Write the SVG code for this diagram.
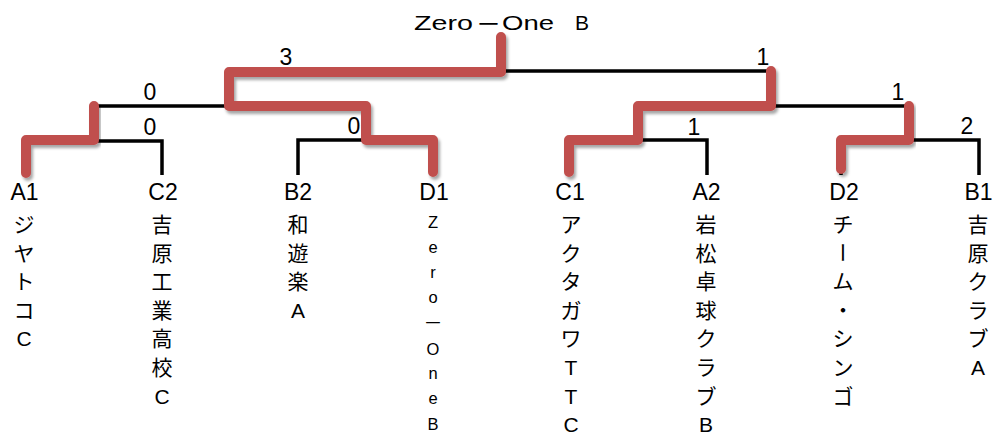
<svg xmlns="http://www.w3.org/2000/svg" width="996" height="435" viewBox="0 0 996 435">
<style>
text{font-family:"Liberation Sans","Noto Sans CJK JP",sans-serif;fill:#000}
.t{font-size:21px}
.lab{font-size:23px;text-anchor:middle}
.col{font-size:21px;text-anchor:middle}
.colS{font-size:16.5px;text-anchor:middle}
.sc{font-size:23px;text-anchor:middle}
.blk{fill:none;stroke:#000;stroke-width:3.5;stroke-linecap:butt;stroke-linejoin:miter}
.red{fill:none;stroke:#c0504d;stroke-width:10;stroke-linecap:round;stroke-linejoin:round;filter:url(#sh)}
</style>
<defs>
<filter id="sh" x="-10%" y="-30%" width="120%" height="160%">
<feDropShadow dx="2" dy="3" stdDeviation="1.6" flood-color="#000" flood-opacity="0.35"/>
</filter>
</defs>
<g id="connectors">
<g id="bracket-lines">
<path class="blk" d="M26 175V141H162V175"/>
<path class="blk" d="M94 141V106H366"/>
<path class="blk" d="M298 175V140H433V175"/>
<path class="blk" d="M366 140V106"/>
<path class="blk" d="M229 106V71H771V106"/>
<path class="blk" d="M501 71V37"/>
<path class="blk" d="M569 175V140H707V175"/>
<path class="blk" d="M638 140V106H909V140"/>
<path class="blk" d="M841 175V140H979V175"/>
</g>
<g id="winner-paths">
<path class="red" d="M26 173V140H94V106"/>
<path class="red" d="M433 172V140H366V106H229V72H501V37"/>
<path class="red" d="M569 172V140H638V106H771V71"/>
<path class="red" d="M841 169V140H909V106"/>
</g>
<g id="scores">
<text class="sc" x="286" y="65">3</text>
<text class="sc" x="150" y="100">0</text>
<text class="sc" x="150" y="135">0</text>
<text class="sc" x="354" y="134">0</text>
<text class="sc" x="763" y="65">1</text>
<text class="sc" x="898" y="100">1</text>
<text class="sc" x="694" y="135">1</text>
<text class="sc" x="967" y="134">2</text>
</g>
</g>
<g id="champion">
<text class="t" y="30"><tspan x="414" textLength="59" lengthAdjust="spacingAndGlyphs">Zero</tspan><tspan x="476" y="32.5" style="font-size:25px">－</tspan><tspan x="502" y="30" textLength="52" lengthAdjust="spacingAndGlyphs">One</tspan><tspan x="575">　</tspan><tspan x="575">B</tspan></text>
</g>
<g id="A1">
<text class="lab" x="24.5" y="200">A1</text>
<text class="col"><tspan x="24" y="232">ジ</tspan><tspan x="24" y="260.6">ヤ</tspan><tspan x="24" y="289.2">ト</tspan><tspan x="24" y="317.8">コ</tspan><tspan x="24" y="346.4">C</tspan></text>
</g>
<g id="C2">
<text class="lab" x="163" y="200">C2</text>
<text class="col"><tspan x="162" y="232">吉</tspan><tspan x="162" y="260.6">原</tspan><tspan x="162" y="289.2">工</tspan><tspan x="162" y="317.8">業</tspan><tspan x="162" y="346.4">高</tspan><tspan x="162" y="375">校</tspan><tspan x="162" y="403.6">C</tspan></text>
</g>
<g id="B2">
<text class="lab" x="298" y="200">B2</text>
<text class="col"><tspan x="298" y="232">和</tspan><tspan x="298" y="260.6">遊</tspan><tspan x="298" y="289.2">楽</tspan><tspan x="298" y="317.8">A</tspan></text>
</g>
<g id="D1">
<text class="lab" x="434" y="200">D1</text>
<text class="colS"><tspan x="433" y="227.5">Z</tspan><tspan x="433" y="252.5">e</tspan><tspan x="433" y="277.5">r</tspan><tspan x="433" y="302.75">o</tspan><tspan x="433" y="330" style="font-size:19px">－</tspan><tspan x="433" y="354.5">O</tspan><tspan x="433" y="378.5">n</tspan><tspan x="433" y="403.75">e</tspan><tspan x="433" y="430">B</tspan></text>
</g>
<g id="C1">
<text class="lab" x="570" y="200">C1</text>
<text class="col"><tspan x="571" y="232">ア</tspan><tspan x="571" y="260.6">ク</tspan><tspan x="571" y="289.2">タ</tspan><tspan x="571" y="317.8">ガ</tspan><tspan x="571" y="346.4">ワ</tspan><tspan x="571" y="375">T</tspan><tspan x="571" y="403.6">T</tspan><tspan x="571" y="432.2">C</tspan></text>
</g>
<g id="A2">
<text class="lab" x="706.5" y="200">A2</text>
<text class="col"><tspan x="706" y="232">岩</tspan><tspan x="706" y="260.6">松</tspan><tspan x="706" y="289.2">卓</tspan><tspan x="706" y="317.8">球</tspan><tspan x="706" y="346.4">ク</tspan><tspan x="706" y="375">ラ</tspan><tspan x="706" y="403.6">ブ</tspan><tspan x="706" y="432.2">B</tspan></text>
</g>
<g id="D2">
<text class="lab" x="844" y="200">D2</text>
<text class="col"><tspan x="843" y="232">チ</tspan></text>
<text class="col" x="843" y="260.6" transform="rotate(90 843 252.6)">ー</text>
<text class="col"><tspan x="843" y="289.2">ム</tspan><tspan x="843" y="317.8">・</tspan><tspan x="843" y="346.4">シ</tspan><tspan x="843" y="375">ン</tspan><tspan x="843" y="403.6">ゴ</tspan></text>
</g>
<g id="B1">
<text class="lab" x="978.5" y="200">B1</text>
<text class="col"><tspan x="978" y="232">吉</tspan><tspan x="978" y="260.6">原</tspan><tspan x="978" y="289.2">ク</tspan><tspan x="978" y="317.8">ラ</tspan><tspan x="978" y="346.4">ブ</tspan><tspan x="978" y="375">A</tspan></text>
</g>
</svg>
